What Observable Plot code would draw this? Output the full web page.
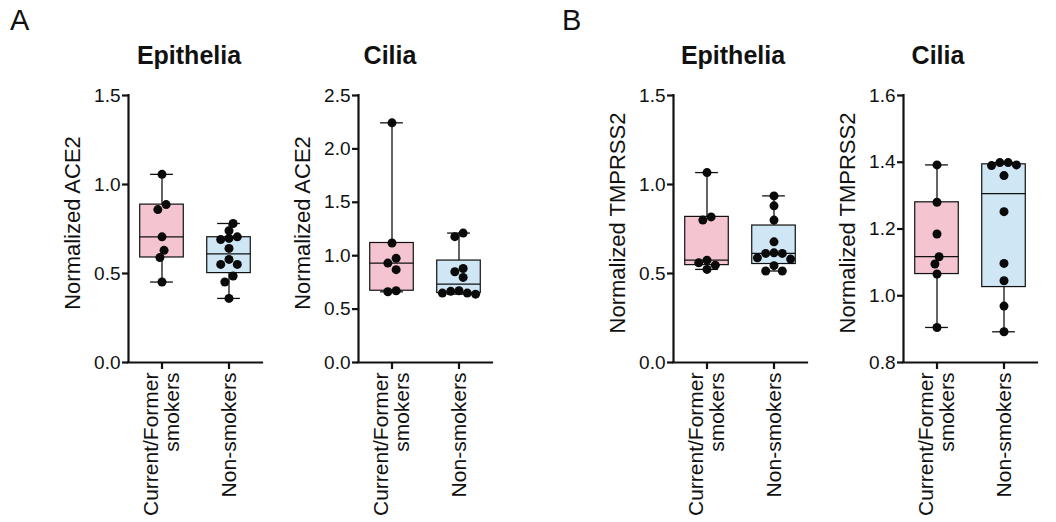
<!DOCTYPE html>
<html><head><meta charset="utf-8">
<script src="https://cdn.jsdelivr.net/npm/d3@7"></script>
<script src="https://cdn.jsdelivr.net/npm/@observablehq/plot@0.6"></script>
<style>
body{margin:0;background:#fff;font-family:"Liberation Sans",Arial,sans-serif;}
#root{position:relative;width:1056px;height:522px;overflow:hidden;background:#fff;}
.panel{position:absolute;top:0;}
.lbl{position:absolute;font-size:29px;line-height:1;color:#111;}
.ttl{position:absolute;font-size:25px;font-weight:bold;transform:translateX(-50%);white-space:nowrap;line-height:1;color:#111;}
</style></head><body><div id="root"></div>
<script>
// ---------- data ----------
const groups = ["Current/Former\nsmokers", "Non-smokers"];
const panelTitles = ["Epithelia", "Cilia", "Epithelia", "Cilia"];
const panelLetters = ["A", "B"];
const yLabels = ["Normalized ACE2", "Normalized ACE2", "Normalized TMPRSS2", "Normalized TMPRSS2"];
const yDomains = [[0, 1.5], [0, 2.5], [0, 1.5], [0.8, 1.6]];
const yTicks = [[0, 0.5, 1.0, 1.5], [0, 0.5, 1.0, 1.5, 2.0, 2.5], [0, 0.5, 1.0, 1.5], [0.8, 1.0, 1.2, 1.4, 1.6]];

const ace2EpiSmokers = [1.057, 0.887, 0.859, 0.706, 0.630, 0.590, 0.452];
const ace2EpiNonSmokers = [0.781, 0.740, 0.706, 0.697, 0.691, 0.641, 0.579, 0.551, 0.551, 0.486, 0.452, 0.360];
const ace2CiliaSmokers = [2.244, 1.119, 0.975, 0.931, 0.869, 0.672, 0.662];
const ace2CiliaNonSmokers = [1.212, 1.178, 0.880, 0.850, 0.797, 0.672, 0.666, 0.650, 0.650, 0.640];
const tmprssEpiSmokers = [1.067, 0.818, 0.800, 0.575, 0.560, 0.547, 0.523];
const tmprssEpiNonSmokers = [0.936, 0.880, 0.800, 0.678, 0.616, 0.613, 0.613, 0.588, 0.581, 0.544, 0.514, 0.514];
const tmprssCiliaSmokers = [1.392, 1.280, 1.185, 1.117, 1.095, 1.065, 0.905];
const tmprssCiliaNonSmokers = [1.399, 1.399, 1.392, 1.390, 1.360, 1.252, 1.097, 1.045, 0.969, 0.892];

const series = [
  [ace2EpiSmokers, ace2EpiNonSmokers],
  [ace2CiliaSmokers, ace2CiliaNonSmokers],
  [tmprssEpiSmokers, tmprssEpiNonSmokers],
  [tmprssCiliaSmokers, tmprssCiliaNonSmokers]
];

// ---------- style / layout ----------
const fills = ["#f4c5d1", "#cfe6f5"];
const axisX = [128, 358, 673, 903];
const titleX = [189, 390, 733, 938];
const letterX = [10, 562];
const PW = 134, MT = 95, MB = 160, ML = 82, MR = 8, H = 522;
const DOT_R = 4.5, SPACING = 8.3;

// Prism-style quartiles ((n+1)p rank)
function quant(s, p) {
  const n = s.length, r = (n + 1) * p;
  if (r <= 1) return s[0];
  if (r >= n) return s[n - 1];
  const lo = Math.floor(r), f = r - lo;
  return s[lo - 1] + f * (s[lo] - s[lo - 1]);
}

// simple symmetric beeswarm offsets (pixels)
function swarm(values, pxPerUnit, s) {
  const order = values.map((v, i) => i).sort((a, b) => values[b] - values[a]);
  const off = new Array(values.length).fill(0);
  const placed = [];
  const h = s / 2, thr = (s * 0.92) ** 2;
  for (const i of order) {
    const y = values[i] * pxPerUnit;
    for (let k = 0; k < 50; k++) {
      const cands = k === 0 ? [0] : [-k * h, k * h];
      let found = null;
      for (const dx of cands) {
        if (placed.every(p => (p.x - dx) ** 2 + (p.y - y) ** 2 >= thr)) { found = dx; break; }
      }
      if (found !== null) { off[i] = found; placed.push({x: found, y}); break; }
    }
  }
  const comps = [];
  let comp = [order[0]];
  for (let j = 1; j < order.length; j++) {
    if ((values[order[j - 1]] - values[order[j]]) * pxPerUnit < s) comp.push(order[j]);
    else { comps.push(comp); comp = [order[j]]; }
  }
  comps.push(comp);
  for (const c of comps) {
    const xs = c.map(i => off[i]);
    const m = (Math.min(...xs) + Math.max(...xs)) / 2;
    c.forEach(i => off[i] -= m);
  }
  return off;
}

const root = document.getElementById("root");

series.forEach((pair, pi) => {
  const domain = yDomains[pi];
  const plotH = H - MT - MB;
  const pxPerUnit = plotH / (domain[1] - domain[0]);
  const unitPx = PW / 2; // px per x unit
  const pts = [], boxes = [];
  pair.forEach((vals, gi) => {
    const off = swarm(vals, pxPerUnit, SPACING);
    vals.forEach((v, i) => pts.push({g: gi, v, x: gi + off[i] / unitPx}));
    const s = vals.slice().sort((a, b) => a - b);
    boxes.push({g: gi, min: s[0], max: s[s.length - 1], q1: quant(s, 0.25), med: quant(s, 0.5), q3: quant(s, 0.75)});
  });
  const bw = 0.325, cw = 0.17;
  const chart = Plot.plot({
    width: ML + PW + MR, height: H,
    marginLeft: ML, marginRight: MR, marginTop: MT, marginBottom: MB,
    style: {fontFamily: "'Liberation Sans', Arial, sans-serif", background: "transparent", color: "#111"},
    x: {domain: [-0.5, 1.5], axis: null},
    y: {domain, axis: null},
    marks: [
      Plot.ruleX(boxes, {x: "g", y1: "min", y2: "q1", stroke: "#111", strokeWidth: 1.3}),
      Plot.ruleX(boxes, {x: "g", y1: "q3", y2: "max", stroke: "#111", strokeWidth: 1.3}),
      Plot.ruleY(boxes, {y: "min", x1: d => d.g - cw, x2: d => d.g + cw, stroke: "#111", strokeWidth: 1.3}),
      Plot.ruleY(boxes, {y: "max", x1: d => d.g - cw, x2: d => d.g + cw, stroke: "#111", strokeWidth: 1.3}),
      Plot.rect(boxes, {x1: d => d.g - bw, x2: d => d.g + bw, y1: "q1", y2: "q3", fill: d => fills[d.g], stroke: "#111", strokeWidth: 1.2}),
      Plot.ruleY(boxes, {y: "med", x1: d => d.g - bw, x2: d => d.g + bw, stroke: "#111", strokeWidth: 1.2}),
      Plot.dot(pts, {x: "x", y: "v", r: DOT_R, fill: "#0a0a0a", stroke: null}),
      Plot.ruleX([-0.5], {y1: domain[0], y2: domain[1], stroke: "#111", strokeWidth: 2.2, strokeLinecap: "square"}),
      Plot.ruleY([domain[0]], {x1: -0.5, x2: 1.5, stroke: "#111", strokeWidth: 2.2, strokeLinecap: "square"}),
      Plot.axisY({ticks: yTicks[pi], tickFormat: d3.format(".1f"), tickSize: 6, tickPadding: 2, strokeWidth: 2.2, fontSize: 19, label: null}),
      Plot.axisX({ticks: [0, 1], tickFormat: i => groups[i], tickSize: 7, tickPadding: 3, strokeWidth: 2.2, fontSize: 21, tickRotate: -90, label: null}),
      Plot.text([yLabels[pi]], {frameAnchor: "left", textAnchor: "middle", rotate: -90, dx: -56, dy: -6, fontSize: 22, fill: "#111"})
    ]
  });
  chart.classList.add("panel");
  chart.style.left = (axisX[pi] - ML) + "px";
  root.appendChild(chart);

  const t = document.createElement("div");
  t.className = "ttl";
  t.textContent = panelTitles[pi];
  t.style.left = titleX[pi] + "px";
  t.style.top = "43px";
  root.appendChild(t);
});

panelLetters.forEach((L, i) => {
  const d = document.createElement("div");
  d.className = "lbl";
  d.textContent = L;
  d.style.left = letterX[i] + "px";
  d.style.top = "6px";
  root.appendChild(d);
});
</script>
</body></html>
